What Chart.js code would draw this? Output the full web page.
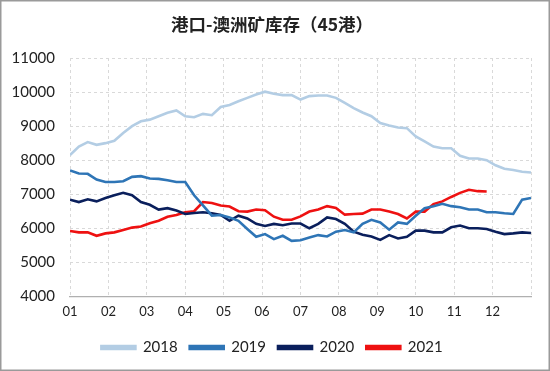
<!DOCTYPE html>
<html>
<head>
<meta charset="utf-8">
<script src="https://cdn.jsdelivr.net/npm/chart.js@4.4.1/dist/chart.umd.min.js"></script>
<style>
  html, body { margin: 0; padding: 0; background: #fff; }
  #wrap { width: 550px; height: 371px; }
</style>
</head>
<body>
<div id="wrap"><canvas id="chart" width="550" height="371"></canvas></div>
<script>
const MONTH_LABELS = ['01', '02', '03', '04', '05', '06', '07', '08', '09', '10', '11', '12'];
const WEEKS_PER_YEAR = 52;

const Y2018 = [8150, 8400, 8530, 8450, 8500, 8570, 8800, 9000, 9140, 9190, 9290, 9390, 9460, 9290, 9260, 9360,
  9320, 9560, 9620, 9730, 9830, 9930, 10010, 9950, 9910, 9910, 9780, 9880, 9900, 9900, 9830, 9680, 9530, 9400,
  9290, 9090, 9020, 8960, 8940, 8700, 8550, 8400, 8350, 8350, 8130, 8050, 8050, 8000, 7850, 7750, 7710, 7660, 7640];
const Y2019 = [7700, 7610, 7600, 7430, 7360, 7360, 7380, 7510, 7530, 7460, 7450, 7410, 7360, 7360, 6970, 6670,
  6370, 6390, 6320, 6220, 5980, 5750, 5830, 5680, 5780, 5630, 5650, 5730, 5800, 5760, 5900, 5950, 5880, 6130,
  6250, 6170, 5960, 6170, 6130, 6370, 6590, 6650, 6720, 6650, 6620, 6550, 6550, 6470, 6470, 6440, 6420, 6840, 6890];
const Y2020 = [6840, 6770, 6850, 6790, 6890, 6970, 7040, 6970, 6770, 6690, 6550, 6590, 6520, 6420, 6450, 6470,
  6440, 6390, 6220, 6370, 6290, 6130, 6070, 6130, 6090, 6140, 6140, 6000, 6130, 6320, 6270, 6130, 5900, 5810,
  5760, 5660, 5800, 5700, 5750, 5930, 5930, 5880, 5880, 6030, 6080, 6000, 6000, 5980, 5900, 5830, 5850, 5880, 5860];
const Y2021 = [5920, 5880, 5880, 5780, 5850, 5880, 5950, 6020, 6050, 6150, 6220, 6340, 6390, 6470, 6500, 6770,
  6740, 6670, 6640, 6500, 6490, 6550, 6530, 6340, 6250, 6250, 6350, 6490, 6550, 6650, 6600, 6400, 6420, 6430,
  6550, 6550, 6490, 6420, 6290, 6490, 6490, 6710, 6790, 6920, 7040, 7130, 7090, 7080];

// weekly points placed on a month axis (1 = 01, 13 = year end)
const toPoints = (arr) => arr.map((v, i) => ({ x: 1 + i * 12 / WEEKS_PER_YEAR, y: v }));

const series = [
  { label: '2018', data: Y2018, color: '#b3cde4' },
  { label: '2019', data: Y2019, color: '#2e75b6' },
  { label: '2020', data: Y2020, color: '#0a1f5c' },
  { label: '2021', data: Y2021, color: '#ee1111' }
];

const frame = {
  id: 'frame',
  afterDraw(chart) {
    const ctx = chart.ctx;
    ctx.save();
    ctx.strokeStyle = '#9a9a9a';
    ctx.lineWidth = 1.5;
    ctx.strokeRect(0.75, 0.75, chart.width - 1.5, chart.height - 1.5);
    ctx.restore();
  }
};

new Chart(document.getElementById('chart'), {
  type: 'line',
  data: {
    datasets: series.map((s) => ({
      label: s.label,
      data: toPoints(s.data),
      borderColor: s.color,
      backgroundColor: s.color,
      borderWidth: 2.6,
      pointRadius: 0,
      tension: 0
    }))
  },
  options: {
    responsive: false,
    animation: false,
    layout: { padding: { left: 0, right: 6, bottom: 6 } },
    plugins: {
      title: {
        display: true,
        text: '港口-澳洲矿库存（45港）',
        color: '#222',
        font: { family: '"Noto Sans CJK SC"', size: 17.5, weight: 'bold' },
        padding: { top: 14, bottom: 23 }
      },
      legend: {
        position: 'bottom',
        labels: {
          boxWidth: 34,
          boxHeight: 3,
          padding: 12,
          color: '#222',
          font: { family: 'Lato', size: 15 }
        }
      },
      tooltip: { enabled: false }
    },
    scales: {
      x: {
        type: 'linear',
        min: 1,
        max: 13,
        ticks: {
          stepSize: 1,
          padding: 8,
          color: '#222',
          font: { family: 'Lato', size: 13 },
          maxRotation: 0,
          callback: (v) => MONTH_LABELS[v - 1] || ''
        },
        grid: { color: '#d9d9d9', drawTicks: false },
        border: { display: true, color: '#b0b0b0', width: 1.2, dash: [3, 3] }
      },
      y: {
        min: 4000,
        max: 11000,
        afterFit: (scale) => { scale.width = 70; },
        ticks: {
          stepSize: 1000,
          padding: 15,
          color: '#222',
          font: { family: 'Lato', size: 15 },
          callback: (v) => String(v)
        },
        grid: { color: '#d9d9d9', drawTicks: false },
        border: { display: false, dash: [3, 3] }
      },
      // empty right-hand spacer so the plot ends where the reference does
      spacer: {
        type: 'linear',
        position: 'right',
        display: true,
        afterFit: (scale) => { scale.width = 13; },
        ticks: { display: false },
        grid: { display: false },
        border: { display: false }
      }
    }
  },
  plugins: [frame]
});
</script>
</body>
</html>
